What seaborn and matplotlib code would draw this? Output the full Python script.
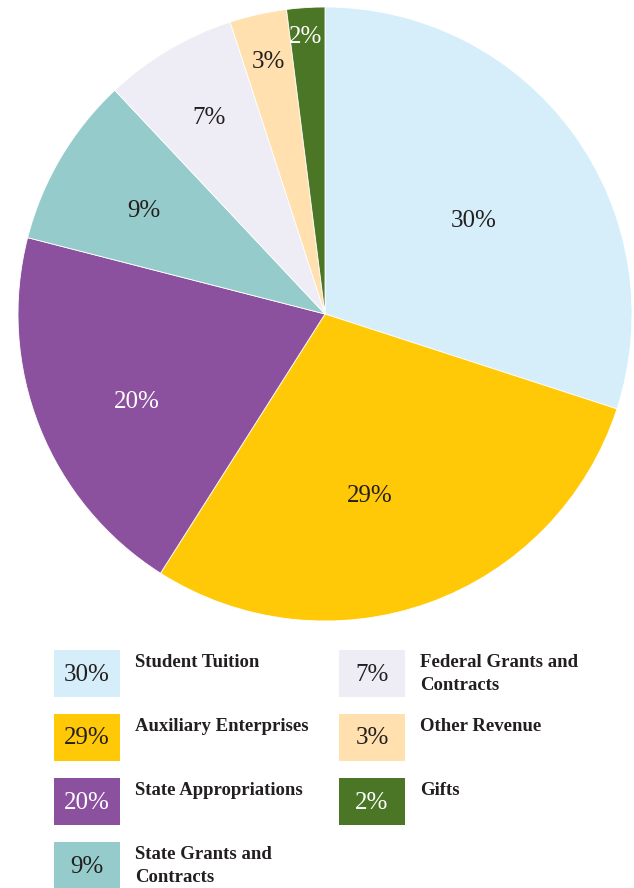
import matplotlib.pyplot as plt
from matplotlib.patches import Rectangle
import seaborn as sns
import numpy as np

# revenue sources, share of total (%)
categories = ["Student Tuition", "Auxiliary Enterprises", "State Appropriations",
              "State Grants and\nContracts", "Federal Grants and\nContracts",
              "Other Revenue", "Gifts"]
shares = [30, 29, 20, 9, 7, 3, 2]
colors = ["#D6EEF9", "#FFC907", "#8C519E", "#96CBCB", "#EEEDF6", "#FFE0AE", "#4A7625"]
text_colors = ["#231F20", "#231F20", "white", "#231F20", "#231F20", "#231F20", "white"]

sns.set_theme(style="white")
plt.rcParams['font.family'] = ['Liberation Serif', 'DejaVu Serif']

W, H = 634, 888
fig = plt.figure(figsize=(W / 100, H / 100), dpi=100)

# pie axes: centre (325, 314) px, radius 307 px
cx, cy, r = 325, 314, 307
ax = fig.add_axes([(cx - r) / W, (H - cy - r) / H, 2 * r / W, 2 * r / H])
wedges, _ = ax.pie(shares, colors=colors, startangle=90, counterclock=False,
                   wedgeprops=dict(edgecolor="white", linewidth=0.6))
ax.set_xlim(-1, 1)
ax.set_ylim(-1, 1)
ax.set_aspect("equal")
ax.axis("off")

# label placement per slice: radius (fraction) and angle nudge (deg)
label_r = [0.57, 0.61, 0.675, 0.68, 0.74, 0.84, 0.905]
label_da = [-4, -6, 3.4, 1, 0, 0, 0.5]
for w, s, lr, da, tc in zip(wedges, shares, label_r, label_da, text_colors):
    ang = np.deg2rad((w.theta1 + w.theta2) / 2 + da)
    ax.text(lr * np.cos(ang), lr * np.sin(ang), f"{s}%", ha="center", va="center",
            fontsize=18, color=tc)

# legend: two columns of coloured boxes
col_x = [54, 339]
row_y0, row_step = 650, 64
box_w, box_h = 66, 47
for i, (cat, s, c, tc) in enumerate(zip(categories, shares, colors, text_colors)):
    col = 0 if i < 4 else 1
    row = i if i < 4 else i - 4
    x = col_x[col]
    y = row_y0 + row * row_step
    fig.patches.append(Rectangle((x / W, 1 - (y + box_h) / H), box_w / W, box_h / H,
                                 transform=fig.transFigure, facecolor=c, edgecolor="none"))
    fig.text((x + box_w / 2) / W, 1 - (y + box_h / 2 + 1) / H, f"{s}%", ha="center",
             va="center", fontsize=18, color=tc)
    fig.text((x + 81) / W, 1 - (y + 4) / H, cat, ha="left", va="top", fontsize=13.5,
             fontweight="bold", color="#231F20", linespacing=1.45)

fig.savefig("out.png", dpi=100)
